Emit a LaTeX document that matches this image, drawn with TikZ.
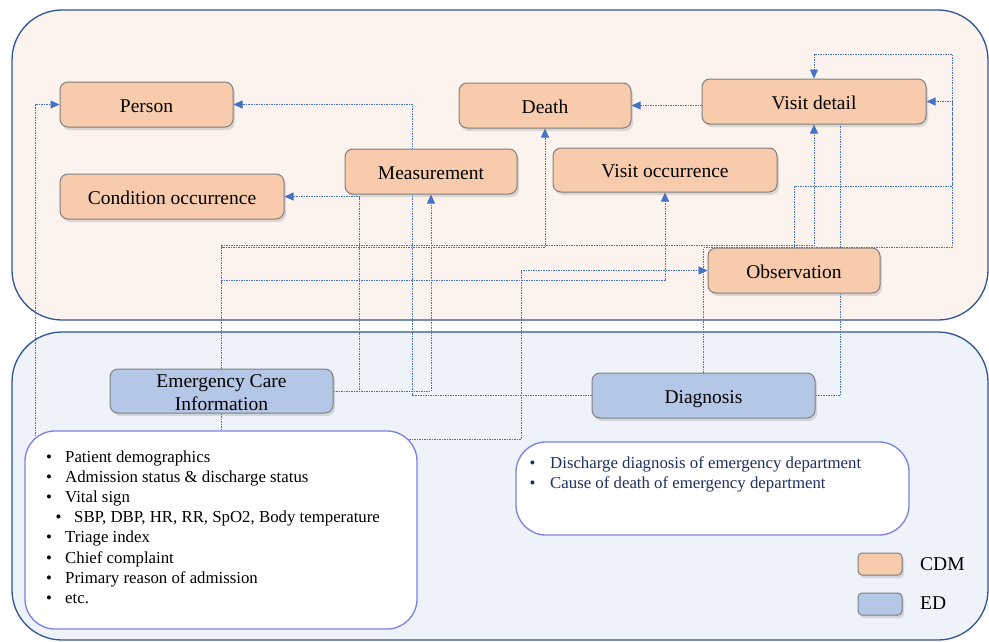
\documentclass[tikz,border=0pt]{standalone}
\usepackage{fontspec}
\setmainfont{Liberation Serif}
\usetikzlibrary{arrows.meta,shadows,calc}
\definecolor{cdmfill}{HTML}{F8CBAD}
\definecolor{edfill}{HTML}{B4C7E7}
\definecolor{toppanel}{HTML}{FCF3EE}
\definecolor{botpanel}{HTML}{EEF3FA}
\definecolor{panelline}{HTML}{2F5496}
\definecolor{listline}{HTML}{7C80E4}
\definecolor{connblue}{HTML}{4472C4}
\definecolor{boxline}{HTML}{7F7F7F}
\definecolor{navytext}{HTML}{1F2F5F}
\pgfdeclarelayer{bg}
\pgfdeclarelayer{mid}
\pgfsetlayers{bg,mid,main}
\begin{document}
\begin{tikzpicture}[x=1pt,y=-1pt,
  tbl/.style={draw=boxline, line width=1pt, rounded corners=8pt, inner sep=0pt, align=center,
     font=\fontsize{19.5}{23}\selectfont,
     drop shadow={shadow xshift=2pt, shadow yshift=-3pt, opacity=0.25}},
  oneline/.style={text height=15pt, text depth=0pt},
  cdm/.style={tbl, fill=cdmfill},
  ed/.style={tbl, fill=edfill},
  plain/.style={draw=connblue, line width=0.7pt, dash pattern=on 1.5pt off 1pt},
  conn/.style={plain, -{Triangle[length=9pt,width=8pt]}},
  panel/.style={draw=panelline, line width=1.3pt, rounded corners=50pt},
  listbox/.style={draw=listline, fill=white, line width=1.3pt, rounded corners=30pt, inner sep=0pt},
  listtxt/.style={anchor=base west, inner sep=0pt, font=\fontsize{16.8}{20}\selectfont},
]
\useasboundingbox (0,0) rectangle (989,641);

% panels and list boxes
\begin{pgfonlayer}{bg}
\fill[white] (0,0) rectangle (989,641);
\path[panel, fill=toppanel] (12,10) rectangle (988,320);
\path[panel, fill=botpanel] (12,332) rectangle (988,640);
\node[listbox, minimum width=392pt, minimum height=198pt] (ecilist) at (221,530) {};
\node[listbox, minimum width=393pt, minimum height=93pt] (diaglist) at (712.5,488.5) {};
\end{pgfonlayer}

% tables
\node[cdm, oneline, minimum width=173pt, minimum height=45pt] (person) at (146.5,104.5) {Person};
\node[cdm, oneline, minimum width=224pt, minimum height=45pt] (cond) at (172,196.5) {Condition occurrence};
\node[cdm, oneline, minimum width=172pt, minimum height=45pt] (meas) at (431,171.5) {Measurement};
\node[cdm, oneline, minimum width=172pt, minimum height=45pt] (death) at (545,105.5) {Death};
\node[cdm, oneline, minimum width=224pt, minimum height=44pt] (vocc) at (665,170) {Visit occurrence};
\node[cdm, oneline, minimum width=224pt, minimum height=45pt] (vdet) at (814,101.5) {Visit detail};
\node[cdm, oneline, minimum width=172pt, minimum height=45pt] (obs) at (794,270.5) {Observation};
\node[ed, minimum width=223pt, minimum height=44pt] (eci) at (221.5,391) {\rule{0pt}{17pt}Emergency Care\\Information};
\node[ed, oneline, minimum width=223pt, minimum height=45pt] (diag) at (703.5,395.5) {Diagnosis};

% connectors
\begin{pgfonlayer}{mid}
\coordinate (lefttap) at (35,436);
\coordinate (righttap) at (409,439);
\coordinate (rcorner) at (952,54);
\coordinate (rmid) at (952,186);
\coordinate (vdbot) at (840,124);
\draw[conn] (diag.west) -- ++(-179,0) |- (person.east);
\draw[conn] (lefttap) |- (person.west);
\draw[conn] (eci.east) -- ++(26,0) |- (cond.east);
\draw[conn] (eci.east) -| (meas.south);
\draw[conn] (eci.north) -- ++(0,-121) -| (death.south);
\draw[conn] (eci.north) -- ++(0,-123) -| (vdet.south);
\draw[conn] (eci.north) -- ++(0,-88) -| (vocc.south);
\draw[conn] (righttap) -- ++(112,0) |- (obs.west);
\draw[conn] (diag.north) -- ++(0,-125) -| (rcorner) -| (vdet.north);
\draw[conn] (obs.north) |- (rmid) |- (vdet.east);
\draw[plain] (diag.east) -| (vdbot);
\draw[conn] (vdet.west |- death.east) -- (death.east);
\draw[plain] (eci.south) -- (eci.south |- ecilist.north);
\end{pgfonlayer}

% ECI list text
\node[listtxt] (e1) at (46,462) {\makebox[19pt][l]{•}Patient demographics};
\node[listtxt] (e2) at (46,482.2) {\makebox[19pt][l]{•}Admission status \& discharge status};
\node[listtxt] (e3) at (46,502.4) {\makebox[19pt][l]{•}Vital sign};
\node[listtxt] (e4) at (55.5,522.6) {\makebox[18.5pt][l]{•}SBP, DBP, HR, RR, SpO2, Body temperature};
\node[listtxt] (e5) at (46,542.8) {\makebox[19pt][l]{•}Triage index};
\node[listtxt] (e6) at (46,563) {\makebox[19pt][l]{•}Chief complaint};
\node[listtxt] (e7) at (46,583.2) {\makebox[19pt][l]{•}Primary reason of admission};
\node[listtxt] (e8) at (46,603.4) {\makebox[19pt][l]{•}etc.};

% Diagnosis list text
\node[listtxt, text=navytext] (d1) at (529.5,468.5) {\makebox[20.5pt][l]{•}Discharge diagnosis of emergency department};
\node[listtxt, text=navytext] (d2) at (529.5,488.5) {\makebox[20.5pt][l]{•}Cause of death of emergency department};

% legend
\node[cdm, minimum width=44pt, minimum height=22pt, rounded corners=4pt] (legc) at (880,564) {};
\node[ed, minimum width=44pt, minimum height=22pt, rounded corners=4pt] (lege) at (880,604) {};
\node[anchor=west, inner sep=0pt, font=\fontsize{19.5}{22}\selectfont] (legct) at (920,564) {CDM};
\node[anchor=west, inner sep=0pt, font=\fontsize{19.5}{22}\selectfont] (legdt) at (920,603) {ED};
\end{tikzpicture}
\end{document}
